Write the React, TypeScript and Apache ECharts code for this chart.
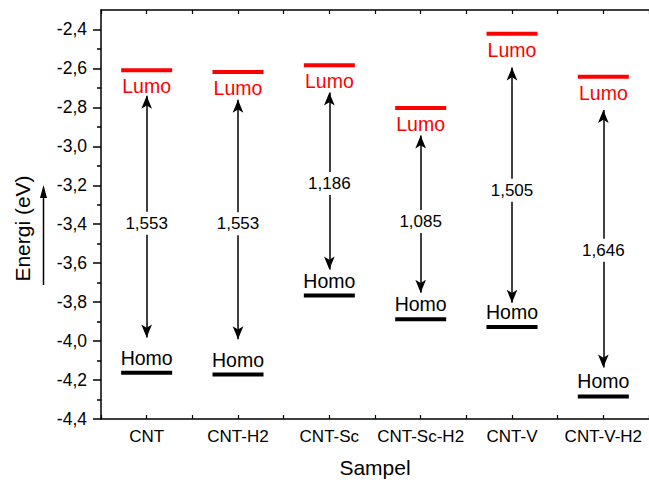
import React, { useEffect, useRef } from 'react';
import * as echarts from 'echarts';

const categories = ['CNT', 'CNT-H2', 'CNT-Sc', 'CNT-Sc-H2', 'CNT-V', 'CNT-V-H2'];
const lumo = [-2.609, -2.618, -2.584, -2.803, -2.422, -2.643];
const homo = [-4.162, -4.172, -3.766, -3.888, -3.927, -4.284];
const gapLabels = ['1,553', '1,553', '1,186', '1,085', '1,505', '1,646'];
const arrowTop = [-2.74, -2.761, -2.723, -2.944, -2.595, -2.813];
const arrowBottom = [-3.982, -3.99, -3.633, -3.752, -3.803, -4.135];
const gapLabelY = [-3.395, -3.398, -3.191, -3.386, -3.225, -3.533];

const yTickValues = [-4.4, -4.2, -4.0, -3.8, -3.6, -3.4, -3.2, -3.0, -2.8, -2.6, -2.4];
const yMinorTickValues = [-4.3, -4.1, -3.9, -3.7, -3.5, -3.3, -3.1, -2.9, -2.7, -2.5];
const xLabelValues = [0.5, 1.5, 2.5, 3.5, 4.5, 5.5];

const FONT = '"Liberation Sans", Arial, sans-serif';

export default function App() {
  const ref = useRef<HTMLDivElement>(null);
  useEffect(() => {
    if (!ref.current) return;
    const chart = echarts.init(ref.current, null, { renderer: 'svg', width: 649, height: 483 });
    const axisLine = { show: true, onZero: false, lineStyle: { color: '#000', width: 1.5 } };
    const option: any = {
      animation: false,
      backgroundColor: '#fff',
      textStyle: { fontFamily: FONT },
      grid: { left: 101, top: 10, right: -6, bottom: 61, containLabel: false },
      xAxis: [
        {
          type: 'value',
          position: 'bottom',
          min: 0,
          max: 6,
          interval: 0.5,
          axisLine,
          axisTick: { show: true, inside: true, length: 4, lineStyle: { color: '#000', width: 1.2 } },
          axisLabel: {
            customValues: xLabelValues,
            formatter: (v: number) => categories[Math.floor(v)] ?? '',
            color: '#000',
            fontSize: 17,
            fontFamily: FONT,
            margin: 9,
          },
          splitLine: { show: false },
          name: 'Sampel',
          nameLocation: 'middle',
          nameGap: 38,
          nameTextStyle: { fontSize: 21, color: '#000', fontFamily: FONT },
        },
        {
          type: 'value',
          position: 'top',
          min: 0,
          max: 6,
          interval: 0.5,
          axisLine,
          axisTick: { show: true, inside: true, length: 4, lineStyle: { color: '#000', width: 1.2 } },
          axisLabel: { show: false },
          splitLine: { show: false },
        },
      ],
      yAxis: [
        {
          type: 'value',
          position: 'left',
          min: -4.4,
          max: -2.3,
          axisLine,
          axisTick: { show: true, inside: false, length: 8, customValues: yTickValues, lineStyle: { color: '#000', width: 1.5 } },
          axisLabel: {
            customValues: yTickValues,
            formatter: (v: number) => v.toFixed(1).replace('.', ','),
            color: '#000',
            fontSize: 17.5,
            fontFamily: FONT,
            margin: 14,
          },
          splitLine: { show: false },
        },
        {
          type: 'value',
          position: 'left',
          min: -4.4,
          max: -2.3,
          axisLine: { show: false },
          axisTick: { show: true, inside: false, length: 4, customValues: yMinorTickValues, lineStyle: { color: '#000', width: 1.5 } },
          axisLabel: { show: false },
          splitLine: { show: false },
        },
      ],
      graphic: [
        {
          type: 'text',
          x: 22,
          y: 228.5,
          rotation: Math.PI / 2,
          style: { text: 'Energi (eV)', font: `21px ${FONT}`, fill: '#000', align: 'center', verticalAlign: 'middle' },
        },
        {
          type: 'line',
          shape: { x1: 43.5, y1: 285, x2: 43.5, y2: 196 },
          style: { stroke: '#000', lineWidth: 1.5 },
        },
        {
          type: 'polygon',
          shape: { points: [[43.5, 185], [40, 198], [47, 198]] },
          style: { fill: '#000' },
        },
      ],
      series: [
        {
          type: 'scatter',
          name: 'Lumo',
          data: lumo.map((v, i) => [i + 0.5, v]),
          symbol: 'rect',
          symbolSize: [51, 4],
          itemStyle: { color: '#ff0000', opacity: 1 },
          label: { show: true, formatter: 'Lumo', position: 'bottom', distance: 4, color: '#ff0000', fontSize: 19.5, fontFamily: FONT },
          silent: true,
        },
        {
          type: 'scatter',
          name: 'Homo',
          data: homo.map((v, i) => [i + 0.5, v]),
          symbol: 'rect',
          symbolSize: [51, 4],
          itemStyle: { color: '#000', opacity: 1 },
          label: { show: true, formatter: 'Homo', position: 'top', distance: 3, color: '#000', fontSize: 19.5, fontFamily: FONT },
          silent: true,
        },
        {
          type: 'scatter',
          name: 'arrows',
          data: [],
          silent: true,
          markLine: {
            silent: true,
            symbol: ['arrow', 'arrow'],
            symbolSize: [8, 13],
            label: { show: false },
            lineStyle: { color: '#000', width: 1.5, type: 'solid', opacity: 1 },
            emphasis: { disabled: true },
            data: categories.map((_, i) => [
              { coord: [i + 0.5, arrowTop[i]] },
              { coord: [i + 0.5, arrowBottom[i]] },
            ]),
          },
        },
        {
          type: 'scatter',
          name: 'gap',
          z: 10,
          data: gapLabelY.map((v, i) => [i + 0.5, v]),
          symbolSize: 1,
          itemStyle: { color: 'transparent', opacity: 1 },
          label: {
            show: true,
            position: 'inside',
            formatter: (p: any) => gapLabels[p.dataIndex],
            color: '#000',
            fontSize: 17,
            fontFamily: FONT,
            backgroundColor: '#fff',
            padding: [3, 1],
          },
          silent: true,
        },
      ],
    };
    chart.setOption(option);
    return () => chart.dispose();
  }, []);
  return <div ref={ref} style={{ position: 'fixed', left: 0, top: 0, width: 649, height: 483 }} />;
}
